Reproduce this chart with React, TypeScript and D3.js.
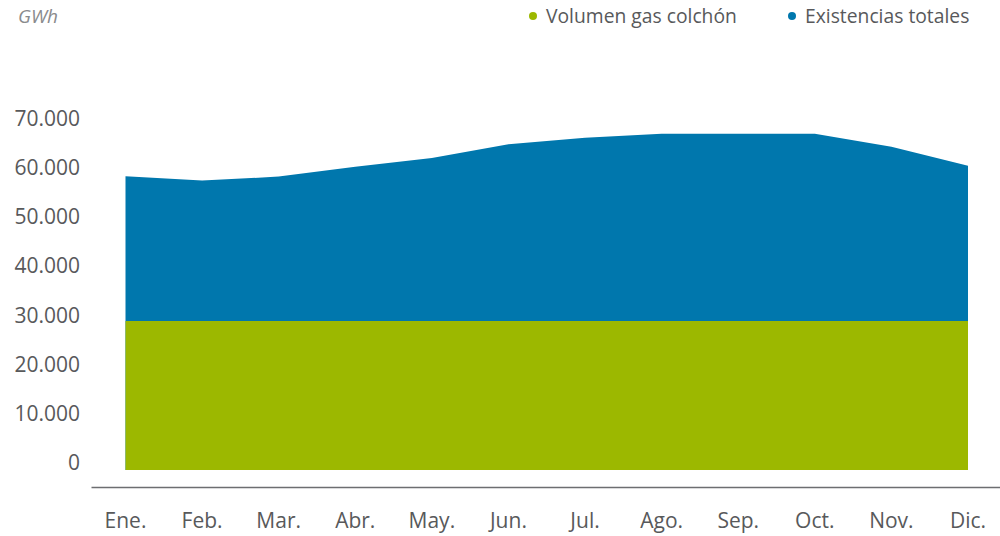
import React, { useEffect, useRef } from 'react';
import * as d3 from 'd3';

const months = ['Ene.', 'Feb.', 'Mar.', 'Abr.', 'May.', 'Jun.', 'Jul.', 'Ago.', 'Sep.', 'Oct.', 'Nov.', 'Dic.'];
const existencias = [59800, 58900, 59700, 61700, 63500, 66300, 67600, 68400, 68400, 68400, 65800, 61900];
const gasColchon = [30300, 30300, 30300, 30300, 30300, 30300, 30300, 30300, 30300, 30300, 30300, 30300];
const yTicks = [0, 10000, 20000, 30000, 40000, 50000, 60000, 70000];
const seriesNames = ['Volumen gas colchón', 'Existencias totales'];

const GREEN = '#9cb800';
const BLUE = '#0077ad';
const TEXT = '#58595b';

const App: React.FC = () => {
  const ref = useRef<SVGSVGElement | null>(null);
  const width = 1000;
  const height = 536;

  useEffect(() => {
    if (!ref.current) return;
    const svg = d3.select(ref.current);
    svg.selectAll('*').remove();

    const font = "'Open Sans', sans-serif";

    const x = d3.scalePoint<string>().domain(months).range([125.5, 968]);
    const y = d3.scaleLinear().domain([0, 70000]).range([470, 126]);

    const rows = months.map((m, i) => ({ m, total: existencias[i], colchon: gasColchon[i] }));

    // total area (blue) behind, colchon (green) on top
    const areaTotal = d3.area<typeof rows[0]>()
      .x(d => x(d.m)!)
      .y0(y(0))
      .y1(d => y(d.total));
    const areaColchon = d3.area<typeof rows[0]>()
      .x(d => x(d.m)!)
      .y0(y(0))
      .y1(d => y(d.colchon));

    svg.append('path').attr('d', areaTotal(rows) || '').attr('fill', BLUE);
    svg.append('path').attr('d', areaColchon(rows) || '').attr('fill', GREEN);

    // y labels
    svg.append('g')
      .selectAll('text')
      .data(yTicks)
      .join('text')
      .attr('x', 80)
      .attr('y', d => y(d))
      .attr('text-anchor', 'end')
      .attr('font-family', font)
      .attr('font-size', 21)
      .attr('fill', TEXT)
      .text(d => d3.format(',')(d).replace(/,/g, '.'));

    // x axis line
    svg.append('line')
      .attr('x1', 91.5).attr('x2', 1000)
      .attr('y1', 487.5).attr('y2', 487.5)
      .attr('stroke', '#6d6e71')
      .attr('stroke-width', 1.5);

    // x labels
    svg.append('g')
      .selectAll('text')
      .data(months)
      .join('text')
      .attr('x', d => x(d)!)
      .attr('y', 528)
      .attr('text-anchor', 'middle')
      .attr('font-family', font)
      .attr('font-size', 21)
      .attr('fill', TEXT)
      .text(d => d);

    // unit
    svg.append('text')
      .attr('x', 18).attr('y', 23)
      .attr('font-family', font)
      .attr('font-style', 'italic')
      .attr('font-size', 19)
      .attr('fill', '#8a8b8d')
      .text('GWh');

    // legend
    const legend = [
      { name: seriesNames[0], color: GREEN, x: 533 },
      { name: seriesNames[1], color: BLUE, x: 792 },
    ];
    const lg = svg.append('g');
    legend.forEach(l => {
      lg.append('circle').attr('cx', l.x).attr('cy', 16).attr('r', 4).attr('fill', l.color);
      lg.append('text')
        .attr('x', l.x + 13).attr('y', 23)
        .attr('font-family', font)
        .attr('font-size', 19.3)
        .attr('fill', TEXT)
        .text(l.name);
    });
  }, []);

  return (
    <svg ref={ref} width={width} height={height}
      style={{ position: 'absolute', left: 0, top: 0, background: '#fff' }} />
  );
};

export default App;
